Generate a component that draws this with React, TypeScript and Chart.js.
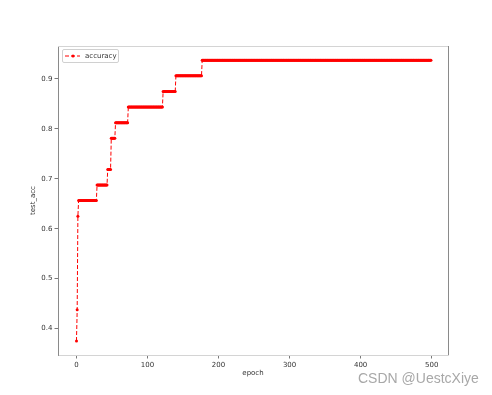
import React, { useEffect, useRef } from "react";
import { Chart, registerables } from "chart.js";

Chart.register(...registerables);

// Accuracy is constant over runs of epochs: run start, run end, value
const runStarts = [0, 1, 2, 3, 29, 44, 49, 55, 73, 122, 140, 177];
const runEnds = [0, 1, 2, 28, 43, 48, 54, 72, 121, 139, 176, 499];
const runValues = [0.375, 0.4375, 0.625, 0.65625, 0.6875, 0.71875, 0.78125, 0.8125, 0.84375, 0.875, 0.90625, 0.9375];

const xTicks = [0, 100, 200, 300, 400, 500];
const yTicks = [0.4, 0.5, 0.6, 0.7, 0.8, 0.9];
const seriesLabel = "accuracy";
const xTitle = "epoch";
const yTitle = "test_acc";
const watermark = "CSDN @UestcXiye";

const FONT = "'DejaVu Sans', sans-serif";

const spinePlugin = {
  id: "spines",
  afterDraw(chart: any) {
    const { ctx, chartArea } = chart;
    const { left, right, top, bottom } = chartArea;
    ctx.save();
    ctx.lineWidth = 1;
    ctx.strokeStyle = "#d4d4d4";
    ctx.beginPath();
    ctx.moveTo(left, Math.round(top) + 0.5);
    ctx.lineTo(right, Math.round(top) + 0.5);
    ctx.stroke();
    ctx.strokeStyle = "#8a8a8a";
    ctx.beginPath();
    ctx.moveTo(Math.round(right) + 0.5, top);
    ctx.lineTo(Math.round(right) + 0.5, bottom);
    ctx.stroke();
    ctx.restore();
  },
};

export default function App() {
  const canvasRef = useRef<HTMLCanvasElement | null>(null);

  useEffect(() => {
    const points: { x: number; y: number }[] = [];
    runStarts.forEach((s, i) => {
      for (let e = s; e <= runEnds[i]; e++) points.push({ x: e, y: runValues[i] });
    });

    const chart = new Chart(canvasRef.current as HTMLCanvasElement, {
      type: "line",
      data: {
        datasets: [
          {
            label: seriesLabel,
            data: points,
            borderColor: "#ff0000",
            borderWidth: 1,
            borderDash: [4, 2],
            pointRadius: 1.5,
            pointBackgroundColor: "#ff0000",
            pointBorderWidth: 0,
            tension: 0,
          },
        ],
      },
      options: {
        responsive: false,
        animation: false,
        layout: { padding: { left: 0, top: 46, right: 44, bottom: 0 } },
        plugins: { legend: { display: false }, tooltip: { enabled: false } },
        scales: {
          x: {
            type: "linear",
            min: -26,
            max: 523,
            afterFit: (s: any) => {
              s.height = 40;
            },
            afterBuildTicks: (s: any) => {
              s.ticks = xTicks.map((v) => ({ value: v }));
            },
            ticks: {
              font: { family: FONT, size: 7 },
              color: "#333",
              padding: 2,
              maxRotation: 0,
              autoSkip: false,
              callback: (v: any) => String(v),
            },
            grid: {
              display: true,
              drawOnChartArea: false,
              drawTicks: true,
              tickLength: 3.5,
              color: "#555",
              lineWidth: 0.8,
            },
            border: { display: true, color: "#d4d4d4", width: 1 },
            title: {
              display: true,
              text: xTitle,
              font: { family: FONT, size: 7 },
              color: "#333",
              padding: { top: 0, bottom: 17.5 },
            },
          },
          y: {
            type: "linear",
            min: 0.347,
            max: 0.966,
            afterFit: (s: any) => {
              s.width = 58;
            },
            afterBuildTicks: (s: any) => {
              s.ticks = yTicks.map((v) => ({ value: v }));
            },
            ticks: {
              font: { family: FONT, size: 7 },
              color: "#333",
              padding: 2,
              autoSkip: false,
              callback: (v: any) => Number(v).toFixed(1),
            },
            grid: {
              display: true,
              drawOnChartArea: false,
              drawTicks: true,
              tickLength: 3.5,
              color: "#555",
              lineWidth: 0.8,
            },
            border: { display: true, color: "#8a8a8a", width: 1 },
            title: {
              display: true,
              text: yTitle,
              font: { family: FONT, size: 7 },
              color: "#333",
              padding: { top: 28.5, bottom: 0 },
            },
          },
        },
      },
      plugins: [spinePlugin],
    } as any);

    return () => chart.destroy();
  }, []);

  return (
    <div
      style={{
        position: "fixed",
        left: 0,
        top: 0,
        width: 492,
        height: 395,
        background: "#fff",
      }}
    >
      <canvas ref={canvasRef} width={492} height={395} style={{ display: "block" }} />
      <div
        style={{
          position: "absolute",
          left: 62,
          top: 49,
          width: 57,
          height: 14,
          boxSizing: "border-box",
          border: "1px solid #d0d0d0",
          borderRadius: 2,
          background: "rgba(255,255,255,0.8)",
        }}
      >
        <svg
          width={17}
          height={12}
          style={{ position: "absolute", left: 1, top: 0 }}
        >
          <line x1={1} y1={6} x2={16} y2={6} stroke="#ff0000" strokeWidth={1} strokeDasharray="4 2" />
          <circle cx={9} cy={6} r={1.5} fill="#ff0000" />
        </svg>
        <span
          style={{
            position: "absolute",
            left: 22,
            top: 0,
            lineHeight: "12px",
            fontFamily: FONT,
            fontSize: 7,
            color: "#333",
            whiteSpace: "nowrap",
          }}
        >
          {seriesLabel}
        </span>
      </div>
      <div
        style={{
          position: "absolute",
          left: 358,
          top: 370,
          fontFamily: "'Liberation Sans', Arial, sans-serif",
          fontSize: 14,
          lineHeight: "16px",
          color: "#a8a8a8",
          whiteSpace: "nowrap",
        }}
      >
        {watermark}
      </div>
    </div>
  );
}
